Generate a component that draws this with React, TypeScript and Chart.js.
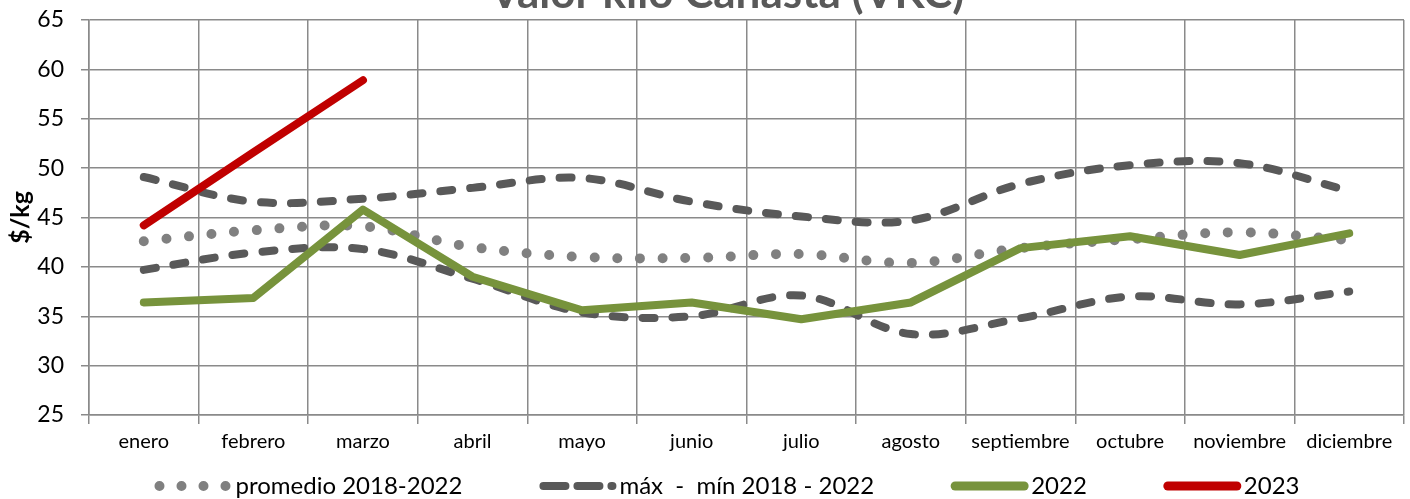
import { useEffect, useRef } from 'react';
import { Chart, registerables } from 'chart.js';

Chart.register(...registerables);

const titleText = 'Valor kilo Canasta (VKC)';
const yAxisTitle = '$/kg';
const categories = ['enero', 'febrero', 'marzo', 'abril', 'mayo', 'junio', 'julio', 'agosto', 'septiembre', 'octubre', 'noviembre', 'diciembre'];
const promedio = [42.6, 43.7, 44.1, 42.0, 41.0, 40.9, 41.3, 40.4, 41.9, 42.8, 43.5, 42.7];
const maximo = [49.1, 46.6, 46.9, 48.0, 49.0, 46.6, 45.1, 44.7, 48.4, 50.3, 50.5, 47.7];
const minimo = [39.7, 41.45, 41.8, 38.8, 35.4, 35.0, 37.1, 33.2, 34.8, 37.0, 36.2, 37.5];
const v2022 = [36.4, 36.85, 45.8, 39.0, 35.6, 36.4, 34.7, 36.4, 41.9, 43.1, 41.2, 43.4];
const v2023 = [44.2, 51.6, 58.9, null, null, null, null, null, null, null, null, null];
const yMin = 25;
const yMax = 65;
const yStep = 5;

const legendLabels = ['promedio 2018-2022', 'máx  -  mín 2018 - 2022', '2022', '2023'];

const FONT = 'Lato, Carlito, Calibri, sans-serif';

type LegendStyle = { color: string; width: number; dash: number[]; cap: CanvasLineCap };
const legendStyles: LegendStyle[] = [
  { color: '#808080', width: 10, dash: [0, 22], cap: 'round' },
  { color: '#595959', width: 8, dash: [22, 12], cap: 'round' },
  { color: '#77933C', width: 9, dash: [], cap: 'round' },
  { color: '#C00000', width: 9, dash: [], cap: 'round' },
];

const customPlugin = {
  id: 'customDecor',
  afterDraw(chart: any) {
    const ctx: CanvasRenderingContext2D = chart.ctx;
    ctx.save();
    // title (partly clipped at top of the picture)
    ctx.font = `bold 44px ${FONT}`;
    ctx.fillStyle = '#595959';
    ctx.textAlign = 'center';
    ctx.textBaseline = 'alphabetic';
    ctx.fillText(titleText, 727, 8);

    // legend
    ctx.font = `24px ${FONT}`;
    ctx.textAlign = 'left';
    ctx.textBaseline = 'middle';
    const markerW = 77;
    const gapText = 4;
    const gapItem = 76;
    const widths = legendLabels.map((l) => ctx.measureText(l).width);
    let total = 0;
    widths.forEach((w, i) => {
      total += markerW + gapText + w + (i < widths.length - 1 ? gapItem : 0);
    });
    let x = 727 - total / 2;
    const y = 486;
    legendLabels.forEach((label, i) => {
      const st = legendStyles[i];
      ctx.save();
      ctx.strokeStyle = st.color;
      ctx.lineWidth = st.width;
      ctx.lineCap = st.cap;
      ctx.setLineDash(st.dash);
      ctx.beginPath();
      ctx.moveTo(x + 5, y);
      ctx.lineTo(x + markerW - 3, y);
      ctx.stroke();
      ctx.restore();
      ctx.fillStyle = '#000';
      ctx.fillText(label, x + markerW + gapText, y);
      x += markerW + gapText + widths[i] + gapItem;
    });
    ctx.restore();
  },
};

export default function App() {
  const ref = useRef<HTMLCanvasElement | null>(null);
  useEffect(() => {
    if (!ref.current) return;
    const chart = new Chart(ref.current, {
      type: 'line',
      data: {
        labels: categories,
        datasets: [
          {
            label: '2023',
            data: v2023,
            borderColor: '#C00000',
            borderWidth: 8,
            borderCapStyle: 'round',
            borderJoinStyle: 'round',
            pointRadius: 0,
            tension: 0,
            spanGaps: false,
          },
          {
            label: '2022',
            data: v2022,
            borderColor: '#77933C',
            borderWidth: 8,
            borderCapStyle: 'round',
            borderJoinStyle: 'round',
            pointRadius: 0,
            tension: 0,
          },
          {
            label: 'mín 2018 - 2022',
            data: minimo,
            borderColor: '#595959',
            borderWidth: 8,
            borderDash: [12, 18],
            borderCapStyle: 'round',
            pointRadius: 0,
            tension: 0.35,
          },
          {
            label: 'máx 2018 - 2022',
            data: maximo,
            borderColor: '#595959',
            borderWidth: 8,
            borderDash: [12, 18],
            borderCapStyle: 'round',
            pointRadius: 0,
            tension: 0.35,
          },
          {
            label: 'promedio 2018-2022',
            data: promedio,
            borderColor: '#808080',
            borderWidth: 10,
            borderDash: [0, 22.7],
            borderCapStyle: 'round',
            pointRadius: 0,
            tension: 0.35,
          },
        ],
      },
      options: {
        responsive: false,
        animation: false,
        layout: { padding: { left: 0, right: 6, top: 20, bottom: 0 } },
        plugins: {
          legend: { display: false },
          title: { display: false },
          tooltip: { enabled: false },
        },
        scales: {
          x: {
            offset: true,
            grid: { offset: true, color: '#8a8a8a', lineWidth: 1.5, tickLength: 9, drawTicks: true },
            border: { color: '#8a8a8a', width: 1.5 },
            ticks: { color: '#000', font: { family: FONT, size: 20 }, padding: 6, maxRotation: 0, autoSkip: false },
            afterFit: (scale: any) => {
              scale.height = 84;
              scale.paddingLeft = 0;
              scale.paddingRight = 0;
            },
          },
          y: {
            min: yMin,
            max: yMax,
            grid: { color: '#8a8a8a', lineWidth: 1.5, tickLength: 8, drawTicks: true },
            border: { color: '#8a8a8a', width: 1.5 },
            ticks: { stepSize: yStep, color: '#000', font: { family: FONT, size: 23 }, padding: 17 },
            title: {
              display: true,
              text: yAxisTitle,
              color: '#000',
              font: { family: FONT, size: 25, weight: 'bold' },
              padding: { top: 6, bottom: 0 },
            },
            afterFit: (scale: any) => {
              scale.width = 89;
              scale.paddingTop = 0;
              scale.paddingBottom = 0;
            },
          },
        },
      } as any,
      plugins: [customPlugin],
    });
    return () => chart.destroy();
  }, []);
  return (
    <div style={{ position: 'absolute', left: 0, top: 0, width: 1410, height: 499, background: '#fff' }}>
      <canvas ref={ref} width={1410} height={499} style={{ display: 'block' }} />
    </div>
  );
}
